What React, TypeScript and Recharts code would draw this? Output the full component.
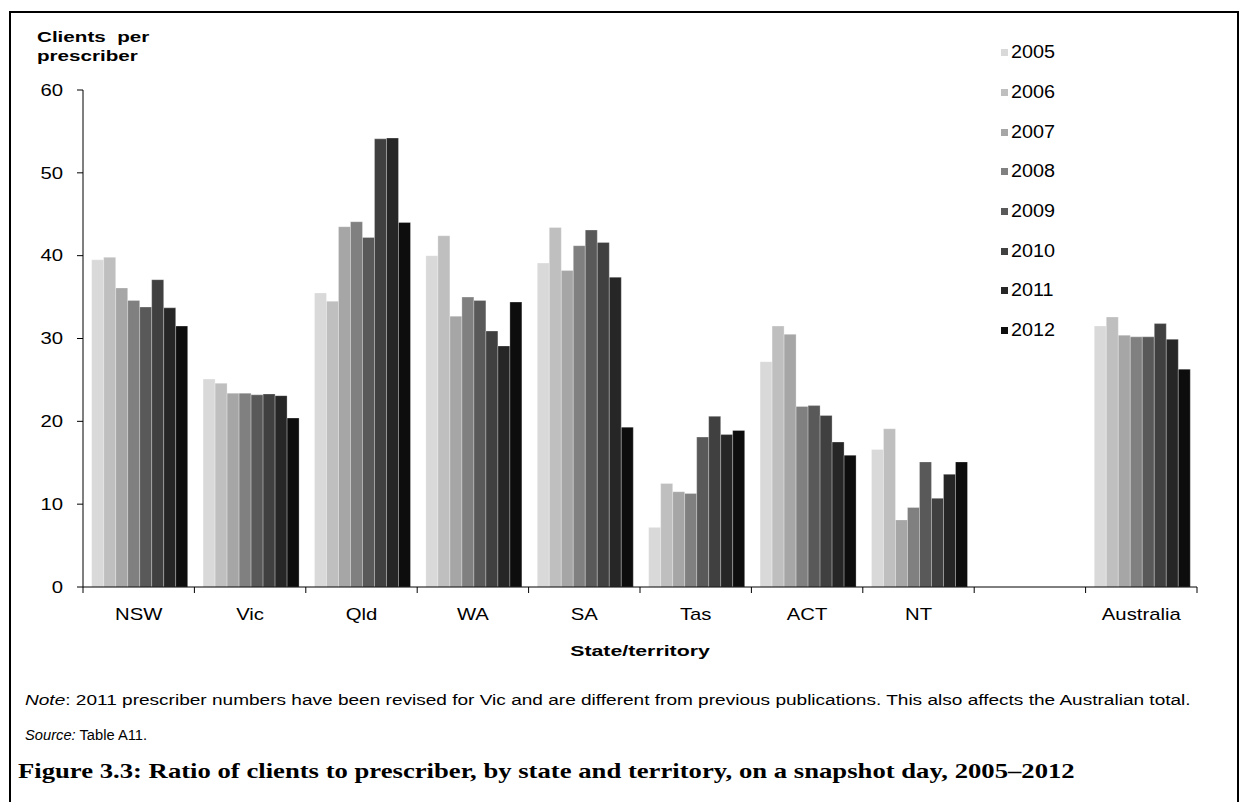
import React from "react";
import { BarChart, Bar, XAxis, YAxis, Label } from "recharts";

const states = ["NSW", "Vic", "Qld", "WA", "SA", "Tas", "ACT", "NT", "", "Australia"];
const years = ["2005", "2006", "2007", "2008", "2009", "2010", "2011", "2012"];
const shades = ["#d9d9d9", "#bfbfbf", "#a6a6a6", "#808080", "#595959", "#404040", "#262626", "#0d0d0d"];
const yTicks = [0, 10, 20, 30, 40, 50, 60];

// clients per prescriber, one list per year, same order as states
const v2005 = [39.5, 25.1, 35.5, 40.0, 39.1, 7.2, 27.2, 16.6, null, 31.5];
const v2006 = [39.8, 24.6, 34.5, 42.4, 43.4, 12.5, 31.5, 19.1, null, 32.6];
const v2007 = [36.1, 23.4, 43.5, 32.7, 38.2, 11.5, 30.5, 8.1, null, 30.4];
const v2008 = [34.6, 23.4, 44.1, 35.0, 41.2, 11.3, 21.8, 9.6, null, 30.2];
const v2009 = [33.8, 23.2, 42.2, 34.6, 43.1, 18.1, 21.9, 15.1, null, 30.2];
const v2010 = [37.1, 23.3, 54.1, 30.9, 41.6, 20.6, 20.7, 10.7, null, 31.8];
const v2011 = [33.7, 23.1, 54.2, 29.1, 37.4, 18.4, 17.5, 13.6, null, 29.9];
const v2012 = [31.5, 20.4, 44.0, 34.4, 19.3, 18.9, 15.9, 15.1, null, 26.3];

const series = [v2005, v2006, v2007, v2008, v2009, v2010, v2011, v2012];

const data = states.map((state, i) => {
  const row: Record<string, any> = { state };
  years.forEach((y, j) => {
    row[y] = series[j][i];
  });
  return row;
});

const sans = "'Liberation Sans', Arial, sans-serif";
const serif = "'Liberation Serif', 'DejaVu Serif', serif";
const stretch = 1.27; // the source picture is wider than it is tall

// category label in the middle, tick marks on the band edges
const StateTick = (props: any) => {
  const { x, y, payload, index, visibleTicksCount } = props;
  const half = payload && payload.offset ? payload.offset : 0;
  const lineY = y - 22;
  const last = index === visibleTicksCount - 1;
  return (
    <g>
      <line x1={x - half} x2={x - half} y1={lineY} y2={lineY + 6} stroke="#000" />
      {last && <line x1={x + half} x2={x + half} y1={lineY} y2={lineY + 6} stroke="#000" />}
      <g transform={`translate(${x},${y}) scale(${stretch},1)`}>
        <text x={0} y={0} dy="0.71em" textAnchor="middle" fontSize={16} fontFamily={sans} fill="#000">
          {payload.value}
        </text>
      </g>
    </g>
  );
};

const ValueTick = (props: any) => {
  const { x, y, payload } = props;
  return (
    <g transform={`translate(${x},${y}) scale(${stretch},1)`}>
      <text x={0} y={0} dy="0.355em" textAnchor="end" fontSize={16} fontFamily={sans} fill="#000">
        {payload.value}
      </text>
    </g>
  );
};

const AxisTitle = (props: any) => {
  const vb = props.viewBox;
  const cx = vb.x + vb.width / 2;
  const cy = vb.y + vb.height - 6;
  return (
    <g transform={`translate(${cx},${cy}) scale(1.42,1)`}>
      <text x={0} y={0} textAnchor="middle" fontSize={15} fontWeight="bold" fontFamily={sans} fill="#000">
        State/territory
      </text>
    </g>
  );
};

const stretched = (origin: string, s: number = stretch): React.CSSProperties => ({
  transform: `scaleX(${s})`,
  transformOrigin: origin,
  whiteSpace: "nowrap",
});

export default function App() {
  return (
    <div style={{ position: "absolute", left: 0, top: 0, width: 1246, height: 802, background: "#fff", overflow: "hidden" }}>
      <div style={{ position: "absolute", left: 9, top: 11, width: 1226, height: 820, border: "2px solid #000" }} />
      <div style={{ position: "absolute", left: 0, top: 0 }}>
        <BarChart
          width={1246}
          height={802}
          data={data}
          margin={{ top: 90, right: 49, left: 33, bottom: 140 }}
          barCategoryGap="7.8%"
          barGap={0}
        >
          <XAxis
            dataKey="state"
            height={75}
            axisLine={{ stroke: "#000" }}
            tickLine={false}
            tickSize={6}
            tickMargin={16}
            interval={0}
            tick={<StateTick />}
          >
            <Label content={<AxisTitle />} position="insideBottom" />
          </XAxis>
          <YAxis
            width={50}
            domain={[0, 60]}
            ticks={yTicks}
            interval={0}
            axisLine={{ stroke: "#000" }}
            tickLine={{ stroke: "#000" }}
            tickSize={6}
            tickMargin={14}
            tick={<ValueTick />}
          />
          {years.map((y, j) => (
            <Bar
              key={y}
              dataKey={y}
              name={y}
              fill={shades[j]}
              stroke="#ffffff"
              strokeOpacity={0.35}
              strokeWidth={0.8}
              isAnimationActive={false}
            />
          ))}
        </BarChart>
      </div>
      <div style={{ position: "absolute", left: 1001, top: 33 }}>
        {years.map((y, j) => (
          <div key={y} style={{ display: "flex", alignItems: "center", height: 39.7 }}>
            <span style={{ display: "inline-block", width: 7, height: 7, background: shades[j], marginRight: 3 }} />
            <span style={{ fontSize: 18, fontFamily: sans, color: "#000", ...stretched("left center", 1.1) }}>{y}</span>
          </div>
        ))}
      </div>
      <div style={{ position: "absolute", left: 37, top: 27, fontSize: 15.5, fontWeight: "bold", fontFamily: sans, lineHeight: "19px", ...stretched("left top", 1.33) }}>
        Clients&nbsp; per
        <br />
        prescriber
      </div>
      <div style={{ position: "absolute", left: 25, top: 692, fontSize: 14, fontFamily: sans, ...stretched("left top", 1.36) }}>
        <i>Note</i>: 2011 prescriber numbers have been revised for Vic and are different from previous publications. This also affects the Australian total.
      </div>
      <div style={{ position: "absolute", left: 25, top: 727, fontSize: 14, fontFamily: sans, ...stretched("left top", 1.05) }}>
        <i>Source:</i> Table A11.
      </div>
      <div style={{ position: "absolute", left: 18, top: 759, fontSize: 21, fontWeight: "bold", fontFamily: serif, ...stretched("left top") }}>
        Figure 3.3: Ratio of clients to prescriber, by state and territory, on a snapshot day, 2005–2012
      </div>
    </div>
  );
}
